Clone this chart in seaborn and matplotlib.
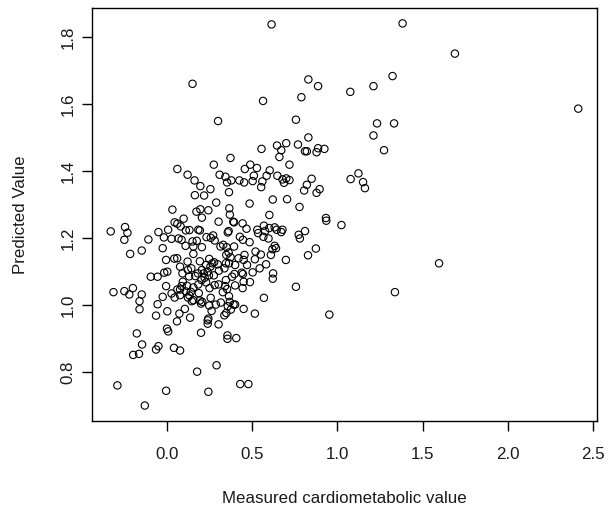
import numpy as np
import pandas as pd
import matplotlib
matplotlib.use("Agg")
import matplotlib.pyplot as plt
import seaborn as sns

# Measured vs predicted values
measured = [
    0.614, 1.383, 1.690, 0.150, 0.830, 0.887, 1.076, 1.212, 1.324, 2.414,
    0.564, 0.789, 0.300, 0.757, 1.233, 1.333, 1.212, 0.830, 1.274, 0.555,
    0.646, 0.700, 0.671, 0.769, 0.810, 0.821, 0.878, 0.887, 0.924, 0.660,
    0.373, 0.275, 0.061, 0.457, 0.489, 0.528, 0.719, 0.603, 1.078, 1.124,
    1.151, 1.162, 0.121, 0.309, 0.343, 0.162, 0.353, 0.378, 0.425, 0.453,
    0.503, 0.510, 0.560, 0.553, 0.585, 0.648, 0.678, 0.687, 0.700, 0.719,
    0.849, 0.821, 0.805, 0.896, 0.878, 0.196, 0.255, 0.164, 0.218, 0.364,
    0.289, 0.485, 0.621, 0.705, 0.032, 0.173, 0.196, 0.243, 0.366, 0.205,
    0.369, 0.778, 0.601, 0.389, 0.303, 0.098, 0.045, 0.061, 0.080, 0.132,
    0.111, 0.184, 0.444, 0.530, 0.467, 0.535, 0.569, 0.576, 0.632, 0.644,
    0.678, 0.671, 0.810, 0.933, 0.935, 1.024, 0.773, 0.780, 0.632, 0.619,
    0.610, 0.828, 0.874, 0.698, 0.623, 0.621, 0.757, 0.569, 0.953, 1.597,
    1.338, 0.566, 0.596, 0.485, 0.428, 0.446, 0.394, 0.357, 0.362, 0.394,
    0.350, 0.314, 0.271, 0.280, 0.232, 0.257, 0.193, 0.205, 0.175, 0.109,
    0.086, 0.068, 0.027, -0.018, 0.007, -0.050, -0.109, -0.148, -0.216, -0.250,
    -0.232, -0.246, -0.330, -0.025, -0.005, 0.043, 0.155, 0.121, 0.077, 0.091,
    0.130, 0.123, 0.193, 0.182, 0.166, 0.205, 0.221, 0.230, 0.239, 0.255,
    0.266, 0.277, 0.298, 0.246, 0.203, 0.216, 0.275, 0.305, 0.337, 0.346,
    0.364, 0.362, 0.373, 0.348, 0.455, 0.450, 0.516, 0.551, 0.582, 0.544,
    0.382, 0.396, 0.439, 0.446, 0.503, 0.487, 0.450, 0.400, 0.444, 0.346,
    0.341, 0.353, 0.328, 0.364, 0.369, 0.391, 0.400, 0.357, 0.316, 0.257,
    0.248, 0.262, 0.287, 0.200, 0.207, 0.193, 0.187, 0.155, 0.132, 0.123,
    0.146, 0.111, 0.086, 0.077, 0.077, 0.061, 0.045, 0.027, -0.005, 0.002,
    -0.016, -0.055, -0.095, -0.025, -0.055, 0.002, -0.064, 0.073, 0.105, 0.136,
    0.059, 0.303, 0.337, 0.348, 0.375, 0.450, 0.516, 0.239, 0.239, 0.243,
    0.200, 0.355, 0.355, 0.407, 0.000, 0.007, -0.177, -0.146, -0.198, -0.164,
    -0.050, -0.064, 0.041, 0.077, 0.177, 0.291, -0.291, -0.005, 0.430, 0.478,
    0.243, -0.130, -0.314, -0.250, -0.200, -0.221, -0.148, -0.161, -0.161, 0.155,
    0.150, 0.143, 0.093, 0.118, 0.155, 0.184, 0.250, 0.303, 0.248, 0.520,
    0.470, 0.330, 0.420, 0.600, 0.640, 0.280, 0.230, 0.140, 0.060, 0.400,
]
predicted = [
    1.837, 1.840, 1.750, 1.660, 1.673, 1.653, 1.636, 1.653, 1.683, 1.586,
    1.609, 1.620, 1.549, 1.553, 1.542, 1.542, 1.506, 1.500, 1.462, 1.466,
    1.476, 1.483, 1.462, 1.479, 1.459, 1.459, 1.456, 1.468, 1.466, 1.442,
    1.439, 1.419, 1.406, 1.406, 1.419, 1.409, 1.419, 1.402, 1.376, 1.393,
    1.367, 1.349, 1.389, 1.389, 1.383, 1.372, 1.366, 1.372, 1.372, 1.366,
    1.370, 1.386, 1.369, 1.352, 1.386, 1.386, 1.375, 1.365, 1.378, 1.373,
    1.377, 1.359, 1.342, 1.346, 1.335, 1.355, 1.346, 1.328, 1.327, 1.337,
    1.306, 1.303, 1.315, 1.316, 1.285, 1.279, 1.286, 1.283, 1.289, 1.261,
    1.270, 1.293, 1.269, 1.249, 1.249, 1.258, 1.247, 1.243, 1.235, 1.224,
    1.223, 1.225, 1.244, 1.225, 1.228, 1.215, 1.237, 1.221, 1.232, 1.225,
    1.225, 1.218, 1.221, 1.260, 1.252, 1.239, 1.210, 1.199, 1.177, 1.167,
    1.150, 1.149, 1.169, 1.135, 1.095, 1.079, 1.055, 1.022, 0.972, 1.125,
    1.039, 1.204, 1.199, 1.188, 1.204, 1.195, 1.175, 1.217, 1.221, 1.247,
    1.173, 1.175, 1.208, 1.193, 1.203, 1.201, 1.223, 1.173, 1.192, 1.177,
    1.195, 1.199, 1.198, 1.202, 1.225, 1.218, 1.196, 1.163, 1.153, 1.195,
    1.216, 1.233, 1.220, 1.170, 1.135, 1.139, 1.153, 1.130, 1.115, 1.095,
    1.086, 1.105, 1.131, 1.095, 1.087, 1.105, 1.082, 1.068, 1.100, 1.115,
    1.125, 1.128, 1.122, 1.089, 1.075, 1.095, 1.089, 1.103, 1.110, 1.125,
    1.125, 1.157, 1.143, 1.150, 1.150, 1.135, 1.137, 1.151, 1.122, 1.110,
    1.085, 1.093, 1.097, 1.093, 1.098, 1.069, 1.070, 1.059, 1.051, 1.075,
    1.057, 1.048, 1.039, 1.027, 1.010, 1.002, 1.002, 0.997, 1.008, 1.022,
    0.999, 0.983, 1.002, 1.005, 1.010, 1.014, 1.036, 1.015, 1.029, 1.023,
    1.012, 1.041, 1.057, 1.047, 1.030, 1.047, 1.023, 1.035, 1.057, 1.100,
    1.097, 1.085, 1.085, 1.025, 1.003, 0.982, 0.969, 0.975, 0.989, 0.963,
    0.952, 0.943, 0.970, 0.977, 0.987, 0.989, 0.975, 0.955, 0.945, 0.960,
    0.918, 0.910, 0.900, 0.902, 0.930, 0.922, 0.916, 0.883, 0.852, 0.855,
    0.878, 0.868, 0.873, 0.865, 0.802, 0.821, 0.761, 0.745, 0.765, 0.765,
    0.742, 0.701, 1.039, 1.042, 1.051, 1.032, 1.032, 1.012, 0.988, 1.175,
    1.190, 1.110, 1.070, 1.058, 1.053, 1.062, 1.051, 1.062, 1.138, 1.160,
    1.120, 1.180, 1.140, 1.230, 1.170, 1.060, 1.120, 1.040, 1.140, 1.120,
]
x_ticks = [0.0, 0.5, 1.0, 1.5, 2.0, 2.5]
y_ticks = [0.8, 1.0, 1.2, 1.4, 1.6, 1.8]

df = pd.DataFrame({"measured": measured, "predicted": predicted})

sns.set_style("white")
plt.rcParams["font.family"] = ["Liberation Sans", "DejaVu Sans"]

fs = 12.2
txt = "#1a1a1a"

fig = plt.figure(figsize=(6.08, 5.08), dpi=100)
ax = fig.add_axes([0.1513, 0.1713, 0.8306, 0.813])

sns.scatterplot(data=df, x="measured", y="predicted", ax=ax,
                marker="o", s=28, color="black", facecolor="none",
                edgecolor="black", linewidth=0.8)

ax.set_xlim(-0.44, 2.524)
ax.set_ylim(0.655, 1.886)
ax.set_xticks(x_ticks)
ax.set_yticks(y_ticks)
ax.set_xticklabels([f"{t:.1f}" for t in x_ticks])
ax.set_yticklabels([f"{t:.1f}" for t in y_ticks], rotation=90, va="center")

for sp in ax.spines.values():
    sp.set_color("black")
    sp.set_linewidth(1.0)

ax.tick_params(axis="both", direction="out", length=7.2, width=1.0,
               color="black", labelsize=fs, labelcolor=txt)
ax.tick_params(axis="x", bottom=True, pad=11.5)
ax.tick_params(axis="y", left=True, pad=4.6)

ax.set_xlabel("Measured cardiometabolic value", fontsize=fs, color=txt)
ax.set_ylabel("Predicted Value", fontsize=fs, color=txt)
ax.xaxis.set_label_coords(0.5, -0.1695)
ax.yaxis.set_label_coords(-0.127, 0.5)

fig.savefig("out.png", dpi=100, facecolor="white")
